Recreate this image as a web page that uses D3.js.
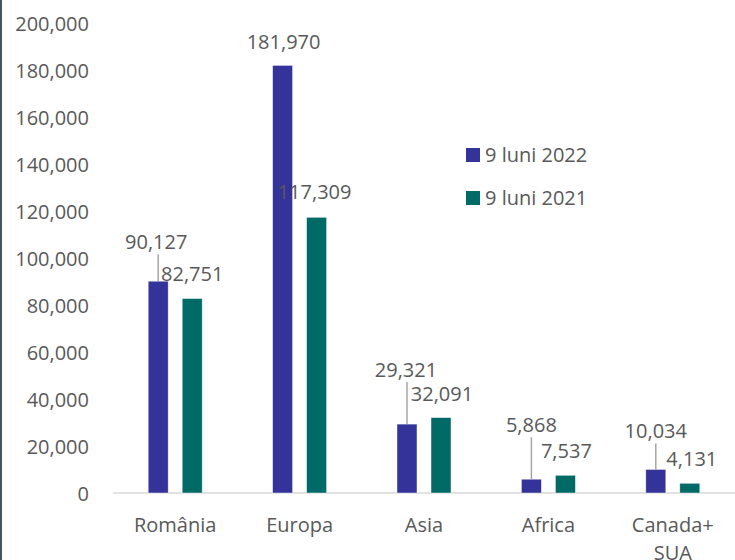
<!DOCTYPE html>
<html><head><meta charset="utf-8">
<script src="https://cdn.jsdelivr.net/npm/d3@7"></script>
<style>
html,body{margin:0;padding:0;background:#fff;}
svg{display:block;}
text{font-family:"Open Sans",sans-serif;fill:#595959;}
</style></head>
<body>
<svg id="chart" width="735" height="560"></svg>
<script>
const categories = ["România", "Europa", "Asia", "Africa", "Canada+\nSUA"];
const seriesNames = ["9 luni 2022", "9 luni 2021"];
const values2022 = [90127, 181970, 29321, 5868, 10034];
const values2021 = [82751, 117309, 32091, 7537, 4131];
const yTicks = [0, 20000, 40000, 60000, 80000, 100000, 120000, 140000, 160000, 180000, 200000];

const colors = ["#333399", "#006A66"];
// manual label placement (dx, dy relative to bar top center); leader lines for moved 2022 labels
const labelOffsets2022 = [[-2, -39], [1, -23], [-1, -54], [0, -54], [0, -38]];
const labelOffsets2021 = [[0, -25], [-2, -25], [1, -24], [1, -24], [2, -24]];

const svg = d3.select("#chart");
const W = 735, H = 560;
const margin = {left: 113, right: 0, top: 23, bottom: 67};

const x = d3.scaleBand().domain(categories).range([margin.left, W]).paddingInner(0).paddingOuter(0);
const y = d3.scaleLinear().domain([0, 200000]).range([H - margin.bottom, margin.top]);
const barW = 20, gap = 14;

// left border
svg.append("rect").attr("x", 0).attr("y", 0).attr("width", 2).attr("height", H).attr("fill", "#44546A");

// y axis labels
const yAxis = d3.axisLeft(y).tickValues(yTicks).tickFormat(d3.format(",")).tickSize(0).tickPadding(0);
const gy = svg.append("g").attr("transform", `translate(89,0)`).call(yAxis);
gy.select(".domain").remove();
gy.selectAll("text").attr("font-size", 20).attr("font-family", "Open Sans").attr("fill", "#595959").attr("dy", "0.35em");

// baseline
svg.append("line").attr("x1", margin.left).attr("x2", W).attr("y1", y(0)).attr("y2", y(0))
  .attr("stroke", "#D9D9D9").attr("stroke-width", 1.5);

const series = [values2022, values2021];
series.forEach((vals, si) => {
  svg.append("g").selectAll("rect").data(vals).join("rect")
    .attr("x", (d, i) => x(categories[i]) + x.bandwidth() / 2 + (si === 0 ? -(barW + gap / 2) : gap / 2))
    .attr("y", d => y(d))
    .attr("width", barW)
    .attr("height", d => y(0) - y(d))
    .attr("fill", colors[si])
    .attr("stroke", "#ffffff").attr("stroke-opacity", 0.6).attr("stroke-width", 0.75);
});

const fmt = d3.format(",");
// leader lines for 2022 labels that were moved away from their bars
values2022.forEach((d, i) => {
  const cx = x(categories[i]) + x.bandwidth() / 2 - (barW / 2 + gap / 2);
  const off = labelOffsets2022[i];
  const labelBottom = y(d) + off[1] + 12;
  if (y(d) - labelBottom > 15) {
    svg.append("line").attr("x1", cx).attr("x2", cx).attr("y1", labelBottom).attr("y2", y(d))
      .attr("stroke", "#A6A6A6").attr("stroke-width", 1.5);
  }
});
// data labels
series.forEach((vals, si) => {
  const offs = si === 0 ? labelOffsets2022 : labelOffsets2021;
  vals.forEach((d, i) => {
    const cx = x(categories[i]) + x.bandwidth() / 2 + (si === 0 ? -(barW / 2 + gap / 2) : (barW / 2 + gap / 2));
    svg.append("text").attr("x", cx + offs[i][0]).attr("y", y(d) + offs[i][1])
      .attr("text-anchor", "middle").attr("dy", "0.35em").attr("font-size", 20)
      .attr("fill", "#404040").text(fmt(d));
  });
});

// category labels
categories.forEach(c => {
  const lines = c.split("\n");
  const t = svg.append("text").attr("x", x(c) + x.bandwidth() / 2).attr("y", 525)
    .attr("text-anchor", "middle").attr("font-size", 20).attr("dy", "0.35em");
  lines.forEach((l, k) => {
    t.append("tspan").attr("x", x(c) + x.bandwidth() / 2).attr("dy", k === 0 ? "0.35em" : 28).text(l);
  });
});

// legend
const leg = svg.append("g");
seriesNames.forEach((n, i) => {
  const ly = 155 + i * 43;
  leg.append("rect").attr("x", 466).attr("y", ly - 7).attr("width", 14).attr("height", 14).attr("fill", colors[i]);
  leg.append("text").attr("x", 485).attr("y", ly).attr("dy", "0.35em").attr("font-size", 20).text(n);
});
</script>
</body></html>
